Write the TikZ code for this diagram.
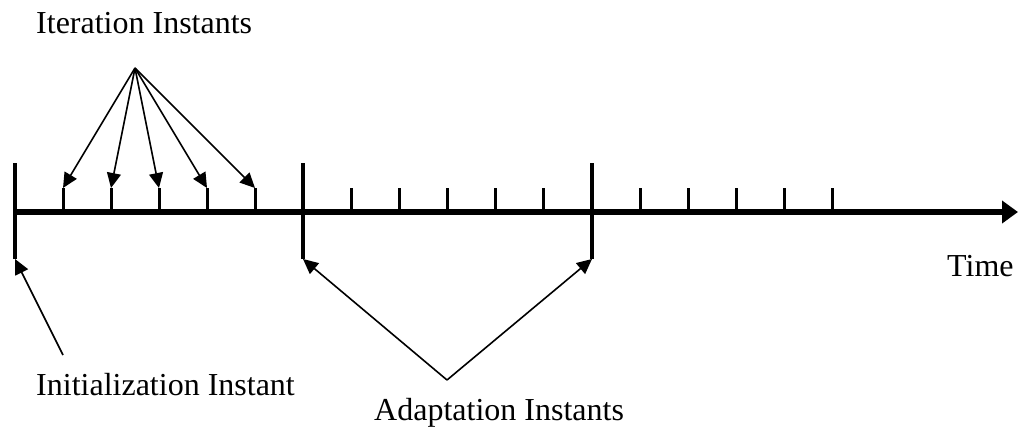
\documentclass[tikz,border=0pt]{standalone}
\usepackage{fontspec}
\setmainfont{Liberation Serif}
\usetikzlibrary{arrows.meta}
\begin{document}
\begin{tikzpicture}[x=1pt,y=-1pt,
  lbl/.style={anchor=base west,inner sep=0pt,font=\fontsize{32}{36}\selectfont},
  axis/.style={line width=6.5pt,-{Triangle[length=16pt,width=22pt]}},
  longtick/.style={line width=3.2pt},
  shorttick/.style={line width=3pt},
  ptr/.style={line width=1.6pt,-{Triangle[length=15pt,width=14pt]}}]
\useasboundingbox (0,0) rectangle (1018,429);
% axis
\coordinate (a0) at (13,212);
\coordinate (a1) at (1018,212);
\draw[axis] (a0) -- (a1);
% long ticks
\foreach \n/\x in {L1/15,L2/303,L3/592}{
  \coordinate (\n t) at (\x,163);
  \coordinate (\n b) at (\x,259);
  \draw[longtick] (\n t) -- (\n b);
}
% short ticks
\foreach \n/\x in {s1/63,s2/111,s3/159,s4/207,s5/255,s6/351,s7/399,s8/447,s9/495,s10/543,s11/640,s12/688,s13/736,s14/784,s15/832}{
  \coordinate (\n) at (\x,188);
  \coordinate (\n b) at (\x,212);
  \draw[shorttick] (\n) -- (\n b);
}
% labels
\node[lbl] (iter) at (36,33) {Iteration Instants};
\node[lbl] (time) at (947,276) {Time};
\node[lbl] (init) at (36,395) {Initialization Instant};
\node[lbl] (adapt) at (374,420) {Adaptation Instants};
% pointers
\coordinate (ia) at (135,68);
\foreach \n in {s1,s2,s3,s4,s5}{\draw[ptr] (ia) -- (\n);}
\coordinate (ini) at (63,355);
\draw[ptr] (ini) -- (L1b);
\coordinate (aa) at (447,380);
\draw[ptr] (aa) -- (L2b);
\draw[ptr] (aa) -- (L3b);
\end{tikzpicture}
\end{document}
